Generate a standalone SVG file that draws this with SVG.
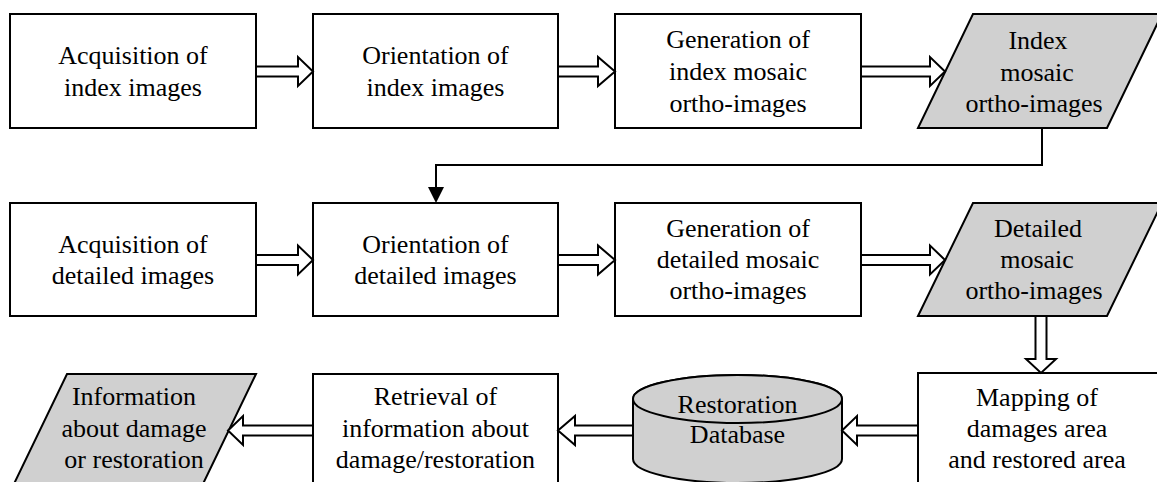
<svg xmlns="http://www.w3.org/2000/svg" width="1157" height="482" viewBox="0 0 1157 482">
<style>
.b{fill:#fff;stroke:#000;stroke-width:2}
.g{fill:#d0d0d0;stroke:#000;stroke-width:2}
text{font-family:'Liberation Serif','DejaVu Serif',serif;font-size:26px;fill:#000;text-anchor:middle}
.ha{fill:#fff;stroke:#000;stroke-width:2;stroke-linejoin:miter}
.ln{fill:none;stroke:#000;stroke-width:2}
</style>
<rect width="1157" height="482" fill="#fff"/>
<g font-family="Liberation Serif, serif" font-size="26" text-anchor="middle">
<g id="n1"><rect class="b" x="10" y="14" width="246" height="114"/><text x="133" y="64">Acquisition of</text><text x="133" y="96">index images</text></g>
<g id="n2"><rect class="b" x="313" y="14" width="245" height="114"/><text x="435.5" y="64">Orientation of</text><text x="435.5" y="96">index images</text></g>
<g id="n3"><rect class="b" x="615" y="14" width="246" height="114"/><text x="738" y="48">Generation of</text><text x="738" y="80">index mosaic</text><text x="738" y="112">ortho-images</text></g>
<g id="n4"><polygon class="g" points="973,14 1162,14 1107,128 918,128"/><text x="1038" y="49">Index</text><text x="1037" y="81">mosaic</text><text x="1034" y="112">ortho-images</text></g>
<g id="n5"><rect class="b" x="10" y="203" width="246" height="113"/><text x="133" y="253">Acquisition of</text><text x="133" y="284">detailed images</text></g>
<g id="n6"><rect class="b" x="313" y="203" width="245" height="113"/><text x="435.5" y="253">Orientation of</text><text x="435.5" y="284">detailed images</text></g>
<g id="n7"><rect class="b" x="615" y="203" width="246" height="113"/><text x="738" y="237">Generation of</text><text x="738" y="268">detailed mosaic</text><text x="738" y="299">ortho-images</text></g>
<g id="n8"><polygon class="g" points="973,203 1162,203 1107,316 918,316"/><text x="1038" y="237">Detailed</text><text x="1037" y="268">mosaic</text><text x="1034" y="299">ortho-images</text></g>
<g id="n9"><rect class="b" x="918" y="373" width="250" height="120"/><text x="1037" y="406">Mapping of</text><text x="1037" y="437">damages area</text><text x="1037" y="468">and restored area</text></g>
<g id="n10"><path class="g" d="M633,399 L633,459 A104.5,24 0 0 0 842,459 L842,399 A104.5,24 0 0 0 633,399 Z"/><ellipse class="g" cx="737.5" cy="399" rx="104.5" ry="24"/><text x="737.5" y="413">Restoration</text><text x="737.5" y="443">Database</text></g>
<g id="n11"><rect class="b" x="313" y="374" width="245" height="120"/><text x="435.5" y="405">Retrieval of</text><text x="435.5" y="437">information about</text><text x="435.5" y="468">damage/restoration</text></g>
<g id="n12"><polygon class="g" points="67,374 256,374 201,488 12,488"/><text x="134" y="405">Information</text><text x="134" y="437">about damage</text><text x="134" y="468">or restoration</text></g>
</g>
<g id="connectors">
<polygon class="ha" points="256,66.5 298,66.5 298,57 313,71.5 298,86 298,76.5 256,76.5"/>
<polygon class="ha" points="558,66.5 598,66.5 598,57 615,71.5 598,86 598,76.5 558,76.5"/>
<polygon class="ha" points="861,66.5 930,66.5 930,57 945,71.5 930,86 930,76.5 861,76.5"/>
<polygon class="ha" points="256,255 298,255 298,245.5 313,260 298,274.5 298,265 256,265"/>
<polygon class="ha" points="558,255 598,255 598,245.5 615,260 598,274.5 598,265 558,265"/>
<polygon class="ha" points="861,255 930,255 930,245.5 945,260 930,274.5 930,265 861,265"/>
<polygon class="ha" points="1035.5,316 1035.5,359 1026,359 1041,373 1056,359 1046.5,359 1046.5,316"/>
<polygon class="ha" points="918,425.5 857,425.5 857,416 842,430.5 857,445 857,435.5 918,435.5"/>
<polygon class="ha" points="633,425.5 575,425.5 575,416 558,430.5 575,445 575,435.5 633,435.5"/>
<polygon class="ha" points="313,425.5 243,425.5 243,416 228,430.5 243,445 243,435.5 313,435.5"/>
<polyline class="ln" points="1042,128 1042,165 436,165 436,188"/>
<polygon points="428,187 444,187 436,203" fill="#000"/>
</g>
</svg>
